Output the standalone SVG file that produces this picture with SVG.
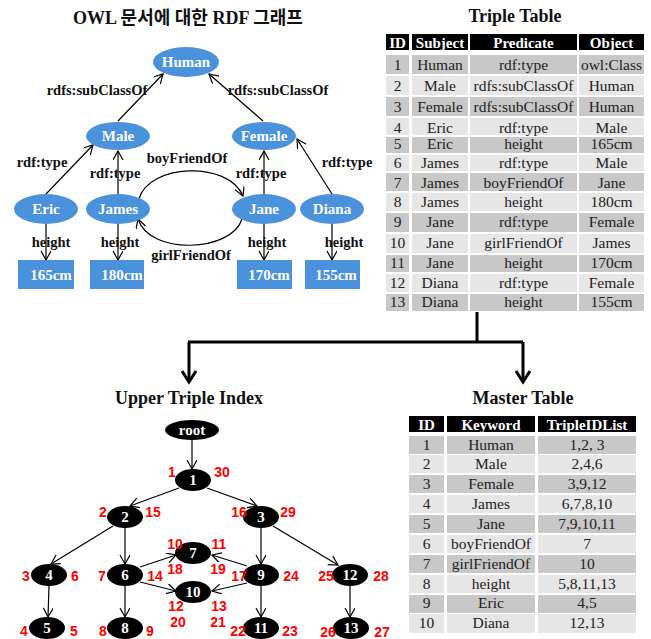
<svg xmlns="http://www.w3.org/2000/svg" width="651" height="639" viewBox="0 0 651 639">
<defs>
<marker id="open" markerWidth="12" markerHeight="12" refX="10" refY="5" orient="auto" markerUnits="userSpaceOnUse">
<path d="M1,0 L10,5 L1,10" fill="none" stroke="#000" stroke-width="1.2"/>
</marker>
</defs>
<style>
.title{font-family:"Liberation Serif","Noto Sans CJK KR",serif;font-weight:bold;font-size:18px;fill:#111;text-anchor:middle}
.bn{fill:#4a92dc}
.bt{font-family:"Liberation Serif",serif;font-weight:bold;font-size:15px;fill:#fff;text-anchor:middle}
.lbl{font-family:"Liberation Serif",serif;font-weight:bold;font-size:14.5px;fill:#111;text-anchor:middle}
.e{fill:none;stroke:#000;stroke-width:1.2;marker-end:url(#open)}
.hd{fill:#000}
.dk{fill:#c8c8c8}
.lt{fill:#e6e6e6}
.ht{font-family:"Liberation Serif",serif;font-weight:bold;font-size:15px;fill:#fff;text-anchor:middle}
.ct{font-family:"Liberation Serif",serif;font-size:15.5px;fill:#222;text-anchor:middle}
.tn{fill:#000}
.tt{font-family:"Liberation Serif",serif;font-weight:bold;font-size:15px;fill:#fff;text-anchor:middle}
.rn{font-family:"Liberation Sans",Arial,sans-serif;font-weight:bold;font-size:14px;fill:#f00;text-anchor:middle}
</style>

<text class="title" x="188" y="24">OWL 문서에 대한 RDF 그래프</text>
<text class="title" x="515" y="22">Triple Table</text>
<text class="title" x="189" y="404">Upper Triple Index</text>
<text class="title" x="523" y="404">Master Table</text>

<!-- RDF graph connectors -->
<g id="rdf-edges">
<path class="e" d="M118,121 L163,74"/>
<path class="e" d="M263,121 L209,74"/>
<path class="e" d="M46,194 L93,145"/>
<path class="e" d="M118,194 L118,151"/>
<path class="e" d="M264,194 L264,151"/>
<path class="e" d="M332,194 L297,139"/>
<path class="e" d="M46,224 L46,260"/>
<path class="e" d="M118,224 L118,260"/>
<path class="e" d="M264,224 L264,260"/>
<path class="e" d="M332,224 L332,260"/>
<path class="e" d="M139,199 C148,164 228,160 243,196"/>
<path class="e" d="M242,219 C232,252 150,256 138,219"/>
<text class="lbl" x="97" y="95">rdfs:subClassOf</text>
<text class="lbl" x="278" y="95">rdfs:subClassOf</text>
<text class="lbl" x="42" y="167">rdf:type</text>
<text class="lbl" x="115" y="178">rdf:type</text>
<text class="lbl" x="261" y="178">rdf:type</text>
<text class="lbl" x="347" y="167">rdf:type</text>
<text class="lbl" x="187" y="163">boyFriendOf</text>
<text class="lbl" x="191" y="260">girlFriendOf</text>
<text class="lbl" x="51" y="247">height</text>
<text class="lbl" x="120" y="247">height</text>
<text class="lbl" x="267" y="247">height</text>
<text class="lbl" x="344" y="247">height</text>
</g>

<g id="human"><ellipse class="bn" cx="186" cy="62" rx="33" ry="15"/><text class="bt" x="186" y="67">Human</text></g>
<g id="male"><ellipse class="bn" cx="118" cy="136" rx="32" ry="14"/><text class="bt" x="118" y="141">Male</text></g>
<g id="female"><ellipse class="bn" cx="264" cy="136" rx="32" ry="14"/><text class="bt" x="264" y="141">Female</text></g>
<g id="eric"><ellipse class="bn" cx="46" cy="209" rx="32" ry="15"/><text class="bt" x="46" y="214">Eric</text></g>
<g id="james"><ellipse class="bn" cx="118" cy="209" rx="32" ry="15"/><text class="bt" x="118" y="214">James</text></g>
<g id="jane"><ellipse class="bn" cx="264" cy="209" rx="32" ry="15"/><text class="bt" x="264" y="214">Jane</text></g>
<g id="diana"><ellipse class="bn" cx="332" cy="209" rx="32" ry="15"/><text class="bt" x="332" y="214">Diana</text></g>
<g id="h165"><rect class="bn" x="18" y="260" width="56" height="29"/><text class="bt" x="51" y="280">165cm</text></g>
<g id="h180"><rect class="bn" x="90" y="260" width="54" height="29"/><text class="bt" x="122" y="280">180cm</text></g>
<g id="h170"><rect class="bn" x="237" y="260" width="55" height="29"/><text class="bt" x="269" y="280">170cm</text></g>
<g id="h155"><rect class="bn" x="305" y="260" width="55" height="29"/><text class="bt" x="336" y="280">155cm</text></g>

<!-- Triple table -->
<g id="triple-table">
<rect class="hd" x="386" y="34" width="23" height="16"/>
<rect class="hd" x="412" y="34" width="56" height="16"/>
<rect class="hd" x="470" y="34" width="107" height="16"/>
<rect class="hd" x="579" y="34" width="65" height="16"/>
<text class="ht" x="397.5" y="47.5">ID</text>
<text class="ht" x="440" y="47.5">Subject</text>
<text class="ht" x="523.5" y="47.5">Predicate</text>
<text class="ht" x="611.5" y="47.5">Object</text>

<g class="dk"><rect x="386" y="55" width="23" height="19"/><rect x="412" y="55" width="56" height="19"/><rect x="470" y="55" width="107" height="19"/><rect x="579" y="55" width="65" height="19"/></g>
<g class="lt"><rect x="386" y="76" width="23" height="19"/><rect x="412" y="76" width="56" height="19"/><rect x="470" y="76" width="107" height="19"/><rect x="579" y="76" width="65" height="19"/></g>
<g class="dk"><rect x="386" y="97" width="23" height="19"/><rect x="412" y="97" width="56" height="19"/><rect x="470" y="97" width="107" height="19"/><rect x="579" y="97" width="65" height="19"/></g>
<g class="lt"><rect x="386" y="118" width="23" height="17"/><rect x="412" y="118" width="56" height="17"/><rect x="470" y="118" width="107" height="17"/><rect x="579" y="118" width="65" height="17"/></g>
<g class="dk"><rect x="386" y="137" width="23" height="16"/><rect x="412" y="137" width="56" height="16"/><rect x="470" y="137" width="107" height="16"/><rect x="579" y="137" width="65" height="16"/></g>
<g class="lt"><rect x="386" y="155" width="23" height="16"/><rect x="412" y="155" width="56" height="16"/><rect x="470" y="155" width="107" height="16"/><rect x="579" y="155" width="65" height="16"/></g>
<g class="dk"><rect x="386" y="173" width="23" height="18"/><rect x="412" y="173" width="56" height="18"/><rect x="470" y="173" width="107" height="18"/><rect x="579" y="173" width="65" height="18"/></g>
<g class="lt"><rect x="386" y="193" width="23" height="18"/><rect x="412" y="193" width="56" height="18"/><rect x="470" y="193" width="107" height="18"/><rect x="579" y="193" width="65" height="18"/></g>
<g class="dk"><rect x="386" y="213" width="23" height="19"/><rect x="412" y="213" width="56" height="19"/><rect x="470" y="213" width="107" height="19"/><rect x="579" y="213" width="65" height="19"/></g>
<g class="lt"><rect x="386" y="234" width="23" height="19"/><rect x="412" y="234" width="56" height="19"/><rect x="470" y="234" width="107" height="19"/><rect x="579" y="234" width="65" height="19"/></g>
<g class="dk"><rect x="386" y="255" width="23" height="17"/><rect x="412" y="255" width="56" height="17"/><rect x="470" y="255" width="107" height="17"/><rect x="579" y="255" width="65" height="17"/></g>
<g class="lt"><rect x="386" y="274" width="23" height="18"/><rect x="412" y="274" width="56" height="18"/><rect x="470" y="274" width="107" height="18"/><rect x="579" y="274" width="65" height="18"/></g>
<g class="dk"><rect x="386" y="294" width="23" height="17"/><rect x="412" y="294" width="56" height="17"/><rect x="470" y="294" width="107" height="17"/><rect x="579" y="294" width="65" height="17"/></g>

<text class="ct" x="397.5" y="70">1</text><text class="ct" x="440" y="70">Human</text><text class="ct" x="523.5" y="70">rdf:type</text><text class="ct" x="611.5" y="70">owl:Class</text>
<text class="ct" x="397.5" y="91">2</text><text class="ct" x="440" y="91">Male</text><text class="ct" x="523.5" y="91">rdfs:subClassOf</text><text class="ct" x="611.5" y="91">Human</text>
<text class="ct" x="397.5" y="112">3</text><text class="ct" x="440" y="112">Female</text><text class="ct" x="523.5" y="112">rdfs:subClassOf</text><text class="ct" x="611.5" y="112">Human</text>
<text class="ct" x="397.5" y="133">4</text><text class="ct" x="440" y="133">Eric</text><text class="ct" x="523.5" y="133">rdf:type</text><text class="ct" x="611.5" y="133">Male</text>
<text class="ct" x="397.5" y="149">5</text><text class="ct" x="440" y="149">Eric</text><text class="ct" x="523.5" y="149">height</text><text class="ct" x="611.5" y="149">165cm</text>
<text class="ct" x="397.5" y="168">6</text><text class="ct" x="440" y="168">James</text><text class="ct" x="523.5" y="168">rdf:type</text><text class="ct" x="611.5" y="168">Male</text>
<text class="ct" x="397.5" y="188">7</text><text class="ct" x="440" y="188">James</text><text class="ct" x="523.5" y="188">boyFriendOf</text><text class="ct" x="611.5" y="188">Jane</text>
<text class="ct" x="397.5" y="207">8</text><text class="ct" x="440" y="207">James</text><text class="ct" x="523.5" y="207">height</text><text class="ct" x="611.5" y="207">180cm</text>
<text class="ct" x="397.5" y="227">9</text><text class="ct" x="440" y="227">Jane</text><text class="ct" x="523.5" y="227">rdf:type</text><text class="ct" x="611.5" y="227">Female</text>
<text class="ct" x="397.5" y="248">10</text><text class="ct" x="440" y="248">Jane</text><text class="ct" x="523.5" y="248">girlFriendOf</text><text class="ct" x="611.5" y="248">James</text>
<text class="ct" x="397.5" y="268">11</text><text class="ct" x="440" y="268">Jane</text><text class="ct" x="523.5" y="268">height</text><text class="ct" x="611.5" y="268">170cm</text>
<text class="ct" x="397.5" y="288">12</text><text class="ct" x="440" y="288">Diana</text><text class="ct" x="523.5" y="288">rdf:type</text><text class="ct" x="611.5" y="288">Female</text>
<text class="ct" x="397.5" y="307">13</text><text class="ct" x="440" y="307">Diana</text><text class="ct" x="523.5" y="307">height</text><text class="ct" x="611.5" y="307">155cm</text>
</g>

<!-- Big split connector -->
<g id="split-connector" fill="none" stroke="#000" stroke-width="3">
<path d="M477,312 V342 M188,342 H523 M189,342 V381 M523,342 V381"/>
<polyline points="182,371 189,382 196,371"/>
<polyline points="516,371 523,382 530,371"/>
</g>

<!-- Tree connectors -->
<g id="tree-edges">
<path class="e" d="M192,440 L192,469"/>
<path class="e" d="M179,488 L130,506"/>
<path class="e" d="M207,488 L257,506"/>
<path class="e" d="M113,526 L51,564"/>
<path class="e" d="M125,528 L125,564"/>
<path class="e" d="M261,528 L261,564"/>
<path class="e" d="M273,526 L338,565"/>
<path class="e" d="M49,586 L48,617"/>
<path class="e" d="M125,586 L125,617"/>
<path class="e" d="M261,586 L261,617"/>
<path class="e" d="M350,586 L350,617"/>
<path class="e" d="M140,567 L176,555"/>
<path class="e" d="M140,582 L176,591"/>
<path class="e" d="M247,566 L212,555"/>
<path class="e" d="M247,583 L212,591"/>
</g>

<g id="root"><ellipse class="tn" cx="192" cy="430" rx="27" ry="10"/><text class="tt" x="192" y="435">root</text></g>
<g id="t1"><ellipse class="tn" cx="193" cy="480" rx="18" ry="11"/><text class="tt" x="193" y="485">1</text></g>
<g id="t2"><ellipse class="tn" cx="125" cy="517" rx="18" ry="11"/><text class="tt" x="125" y="522">2</text></g>
<g id="t3"><ellipse class="tn" cx="261" cy="517" rx="18" ry="11"/><text class="tt" x="261" y="522">3</text></g>
<g id="t4"><ellipse class="tn" cx="49" cy="575" rx="18" ry="11"/><text class="tt" x="49" y="580">4</text></g>
<g id="t6"><ellipse class="tn" cx="125" cy="575" rx="18" ry="11"/><text class="tt" x="125" y="580">6</text></g>
<g id="t7"><ellipse class="tn" cx="193" cy="553" rx="18" ry="11"/><text class="tt" x="193" y="558">7</text></g>
<g id="t9"><ellipse class="tn" cx="261" cy="575" rx="18" ry="11"/><text class="tt" x="261" y="580">9</text></g>
<g id="t10"><ellipse class="tn" cx="193" cy="592" rx="18" ry="11"/><text class="tt" x="193" y="597">10</text></g>
<g id="t12"><ellipse class="tn" cx="350" cy="575" rx="18" ry="11"/><text class="tt" x="350" y="580">12</text></g>
<g id="t5"><ellipse class="tn" cx="47" cy="628" rx="18" ry="11"/><text class="tt" x="47" y="633">5</text></g>
<g id="t8"><ellipse class="tn" cx="125" cy="628" rx="18" ry="11"/><text class="tt" x="125" y="633">8</text></g>
<g id="t11"><ellipse class="tn" cx="261" cy="628" rx="18" ry="11"/><text class="tt" x="261" y="633">11</text></g>
<g id="t13"><ellipse class="tn" cx="351" cy="628" rx="18" ry="11"/><text class="tt" x="351" y="633">13</text></g>

<g id="tree-numbers">
<text class="rn" x="172" y="477">1</text><text class="rn" x="222" y="477">30</text>
<text class="rn" x="103" y="517">2</text><text class="rn" x="153" y="517">15</text>
<text class="rn" x="239" y="517">16</text><text class="rn" x="288" y="517">29</text>
<text class="rn" x="26" y="581">3</text><text class="rn" x="75" y="581">6</text>
<text class="rn" x="102" y="581">7</text><text class="rn" x="155" y="581">14</text>
<text class="rn" x="175" y="549">10</text><text class="rn" x="219" y="549">11</text>
<text class="rn" x="175" y="574">18</text><text class="rn" x="218" y="574">19</text>
<text class="rn" x="239" y="581">17</text><text class="rn" x="291" y="581">24</text>
<text class="rn" x="326" y="581">25</text><text class="rn" x="381" y="581">28</text>
<text class="rn" x="176" y="611">12</text><text class="rn" x="219" y="611">13</text>
<text class="rn" x="178" y="627">20</text><text class="rn" x="218" y="627">21</text>
<text class="rn" x="24" y="636">4</text><text class="rn" x="74" y="636">5</text>
<text class="rn" x="103" y="636">8</text><text class="rn" x="150" y="636">9</text>
<text class="rn" x="238" y="636">22</text><text class="rn" x="290" y="636">23</text>
<text class="rn" x="328" y="637">26</text><text class="rn" x="382" y="637">27</text>
</g>

<!-- Master table -->
<g id="master-table">
<rect class="hd" x="409" y="416" width="35" height="16"/>
<rect class="hd" x="447" y="416" width="88" height="16"/>
<rect class="hd" x="538" y="416" width="98" height="16"/>
<text class="ht" x="426.5" y="429.5">ID</text>
<text class="ht" x="491" y="429.5">Keyword</text>
<text class="ht" x="587" y="429.5">TripleIDList</text>

<g class="dk"><rect x="409" y="436" width="35" height="18"/><rect x="447" y="436" width="88" height="18"/><rect x="538" y="436" width="98" height="18"/></g>
<g class="lt"><rect x="409" y="455" width="35" height="18"/><rect x="447" y="455" width="88" height="18"/><rect x="538" y="455" width="98" height="18"/></g>
<g class="dk"><rect x="409" y="475" width="35" height="18"/><rect x="447" y="475" width="88" height="18"/><rect x="538" y="475" width="98" height="18"/></g>
<g class="lt"><rect x="409" y="495" width="35" height="18"/><rect x="447" y="495" width="88" height="18"/><rect x="538" y="495" width="98" height="18"/></g>
<g class="dk"><rect x="409" y="515" width="35" height="18"/><rect x="447" y="515" width="88" height="18"/><rect x="538" y="515" width="98" height="18"/></g>
<g class="lt"><rect x="409" y="535" width="35" height="18"/><rect x="447" y="535" width="88" height="18"/><rect x="538" y="535" width="98" height="18"/></g>
<g class="dk"><rect x="409" y="555" width="35" height="18"/><rect x="447" y="555" width="88" height="18"/><rect x="538" y="555" width="98" height="18"/></g>
<g class="lt"><rect x="409" y="575" width="35" height="18"/><rect x="447" y="575" width="88" height="18"/><rect x="538" y="575" width="98" height="18"/></g>
<g class="dk"><rect x="409" y="595" width="35" height="18"/><rect x="447" y="595" width="88" height="18"/><rect x="538" y="595" width="98" height="18"/></g>
<g class="lt"><rect x="409" y="614" width="35" height="19"/><rect x="447" y="614" width="88" height="19"/><rect x="538" y="614" width="98" height="19"/></g>

<text class="ct" x="426.5" y="450">1</text><text class="ct" x="491" y="450">Human</text><text class="ct" x="587" y="450">1,2, 3</text>
<text class="ct" x="426.5" y="469">2</text><text class="ct" x="491" y="469">Male</text><text class="ct" x="587" y="469">2,4,6</text>
<text class="ct" x="426.5" y="489">3</text><text class="ct" x="491" y="489">Female</text><text class="ct" x="587" y="489">3,9,12</text>
<text class="ct" x="426.5" y="509">4</text><text class="ct" x="491" y="509">James</text><text class="ct" x="587" y="509">6,7,8,10</text>
<text class="ct" x="426.5" y="529">5</text><text class="ct" x="491" y="529">Jane</text><text class="ct" x="587" y="529">7,9,10,11</text>
<text class="ct" x="426.5" y="549">6</text><text class="ct" x="491" y="549">boyFriendOf</text><text class="ct" x="587" y="549">7</text>
<text class="ct" x="426.5" y="569">7</text><text class="ct" x="491" y="569">girlFriendOf</text><text class="ct" x="587" y="569">10</text>
<text class="ct" x="426.5" y="589">8</text><text class="ct" x="491" y="589">height</text><text class="ct" x="587" y="589">5,8,11,13</text>
<text class="ct" x="426.5" y="608">9</text><text class="ct" x="491" y="608">Eric</text><text class="ct" x="587" y="608">4,5</text>
<text class="ct" x="426.5" y="628">10</text><text class="ct" x="491" y="628">Diana</text><text class="ct" x="587" y="628">12,13</text>
</g>
</svg>
